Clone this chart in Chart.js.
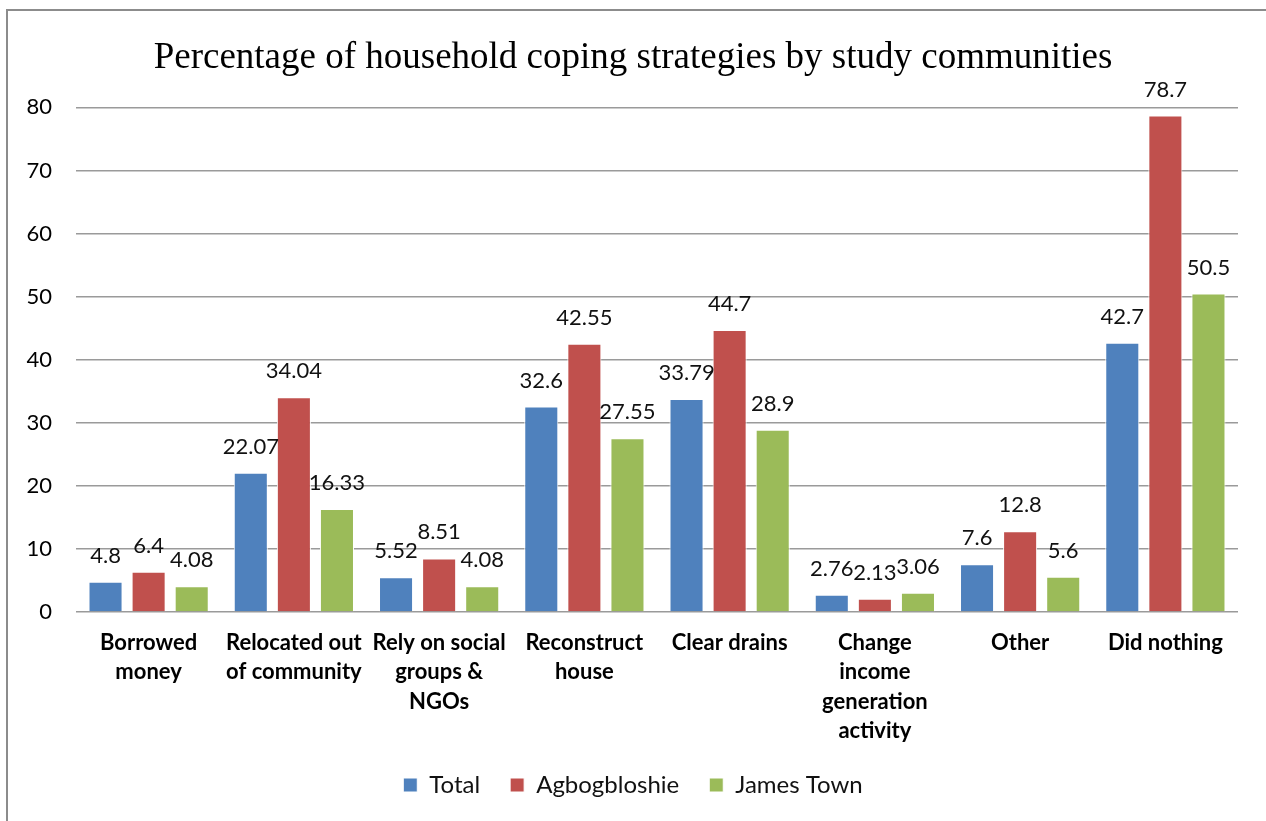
<!DOCTYPE html>
<html>
<head>
<meta charset="utf-8">
<script src="https://cdn.jsdelivr.net/npm/chart.js@4/dist/chart.umd.min.js"></script>
<style>
  html, body { margin: 0; padding: 0; background: #fff; overflow: hidden; }
  #frame {
    position: absolute; left: 6px; top: 9px; width: 1400px; height: 1000px;
    border: 2px solid #8c8c8c; box-sizing: border-box;
  }
  #wrap { position: absolute; left: 0; top: 0; width: 1266px; height: 821px; }
</style>
</head>
<body>
<div id="frame"></div>
<div id="wrap"><canvas id="chart"></canvas></div>
<script>
const categories = [
  ["Borrowed", "money"],
  ["Relocated out", "of community"],
  ["Rely on social", "groups &", "NGOs"],
  ["Reconstruct", "house"],
  ["Clear drains"],
  ["Change", "income", "generation", "activity"],
  ["Other"],
  ["Did nothing"]
];
const total       = [4.8, 22.07, 5.52, 32.6, 33.79, 2.76, 7.6, 42.7];
const agbogbloshie = [6.4, 34.04, 8.51, 42.55, 44.7, 2.13, 12.8, 78.7];
const jamesTown   = [4.08, 16.33, 4.08, 27.55, 28.9, 3.06, 5.6, 50.5];
const yTicks = [0, 10, 20, 30, 40, 50, 60, 70, 80];

const bodyFont = "Lato, 'Open Sans', sans-serif";

// simple value labels above each bar
const valueLabels = {
  id: "valueLabels",
  afterDatasetsDraw(chart) {
    const ctx = chart.ctx;
    ctx.save();
    ctx.font = "22px " + bodyFont;
    ctx.fillStyle = "#111";
    ctx.textAlign = "center";
    ctx.textBaseline = "middle";
    chart.data.datasets.forEach((ds, i) => {
      chart.getDatasetMeta(i).data.forEach((bar, j) => {
        ctx.fillText(String(ds.data[j]), bar.x, bar.y - 26);
      });
    });
    ctx.restore();
  }
};

function ds(label, data, color) {
  return {
    label, data,
    backgroundColor: color,
    borderColor: "#ffffff",
    borderWidth: 1,
    categoryPercentage: 0.89,
    barPercentage: 0.79
  };
}

new Chart(document.getElementById("chart"), {
  type: "bar",
  data: {
    labels: categories,
    datasets: [
      ds("Total", total, "#4F81BD"),
      ds("Agbogbloshie", agbogbloshie, "#C0504D"),
      ds("James Town", jamesTown, "#9BBB59")
    ]
  },
  options: {
    responsive: true,
    maintainAspectRatio: false,
    animation: false,
    layout: { padding: { top: 20, right: 0, bottom: 14, left: 0 } },
    plugins: {
      title: {
        display: true,
        text: "Percentage of household coping strategies by study communities",
        font: { family: "'Liberation Serif', 'Times New Roman', serif", size: 37, weight: "normal" },
        color: "#000",
        padding: { top: 16, bottom: 27 }
      },
      legend: {
        position: "bottom",
        labels: {
          font: { family: bodyFont, size: 24 },
          color: "#111",
          boxWidth: 14,
          boxHeight: 14,
          padding: 30
        }
      },
      tooltip: { enabled: false }
    },
    scales: {
      x: {
        grid: { display: false, drawTicks: false },
        border: { display: false },
        afterFit: s => { s.height -= 19; },
        ticks: {
          font: { family: bodyFont, size: 22, weight: "bold", lineHeight: 1.34 },
          color: "#000",
          padding: 16,
          maxRotation: 0,
          autoSkip: false
        }
      },
      y: {
        min: 0,
        max: 80,
        afterBuildTicks: s => { s.ticks = yTicks.map(v => ({ value: v })); },
        afterFit: s => { s.width = 76; },
        grid: { color: "#9a9a9a", lineWidth: 1.5, drawTicks: false },
        border: { display: false },
        ticks: {
          font: { family: bodyFont, size: 22 },
          color: "#000",
          padding: 24
        }
      },
      // empty right-hand axis, only reserves the right margin
      yRight: {
        position: "right",
        min: 0,
        max: 80,
        afterFit: s => { s.width = 28; },
        grid: { display: false },
        border: { display: false },
        ticks: { display: false }
      }
    }
  },
  plugins: [valueLabels]
});
</script>
</body>
</html>
